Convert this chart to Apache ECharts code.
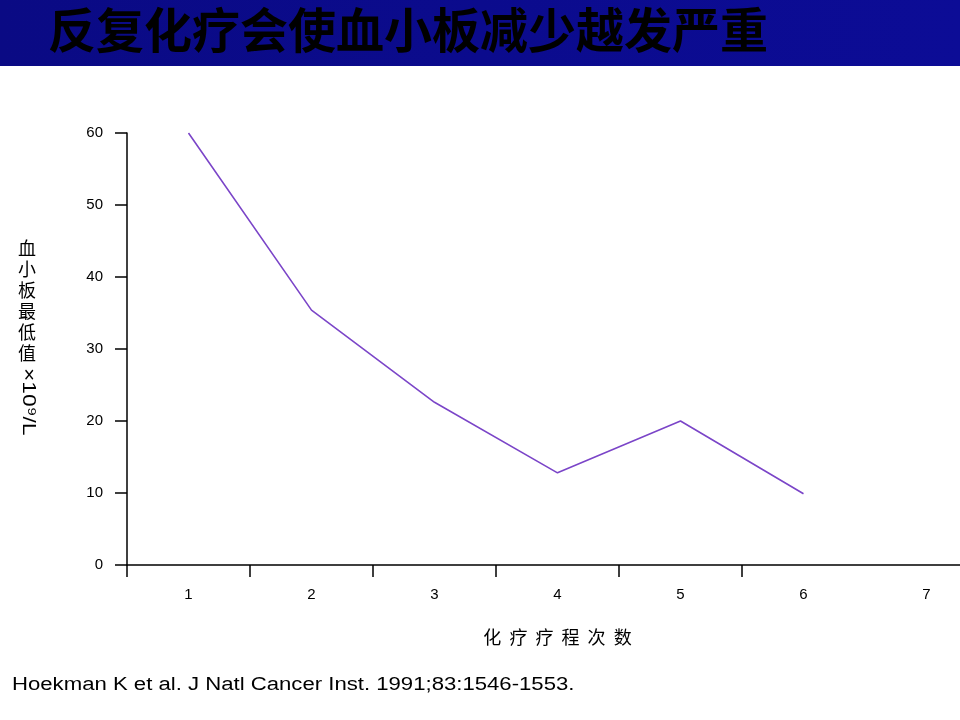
<!DOCTYPE html>
<html>
<head>
<meta charset="utf-8">
<script src="https://cdn.jsdelivr.net/npm/echarts@6/dist/echarts.min.js"></script>
<style>
  html, body { margin: 0; padding: 0; background: #fff; }
  #main { width: 960px; height: 720px; }
</style>
</head>
<body>
<div id="main"></div>
<script>
// 化疗疗程次数 (x 轴类目)
var cycles = ['1', '2', '3', '4', '5', '6', '7'];
// 血小板最低值 ×10^9/L, 第 7 疗程无数据
var plateletNadir = [60, 35.4, 22.6, 12.8, 20, 9.9, null];
// y 轴刻度
var yTicks = [0, 10, 20, 30, 40, 50, 60];

var titleText = '反复化疗会使血小板减少越发严重';
var sourceText = 'Hoekman K et al. J Natl Cancer Inst. 1991;83:1546-1553.';

var chart = echarts.init(document.getElementById('main'), null, { renderer: 'canvas' });

var option = {
  backgroundColor: '#ffffff',
  animation: false,
  grid: {
    left: 127,
    top: 133,
    width: 861,   // 7 个类目，最后一个伸出画面
    height: 432,
    outerBoundsMode: 'none'
  },
  xAxis: {
    type: 'category',
    data: cycles,
    boundaryGap: true,
    name: '化  疗  疗  程  次  数',
    nameLocation: 'middle',
    nameGap: 63,
    nameTextStyle: {
      color: '#000',
      fontSize: 18,
      fontFamily: 'Noto Sans CJK SC'
    },
    axisLine: { lineStyle: { color: '#000', width: 1.5 } },
    axisTick: {
      show: true,
      length: 12,
      lineStyle: { color: '#000', width: 1.5 },
      interval: function (index) { return index <= 5; }
    },
    axisLabel: {
      color: '#000',
      fontSize: 15,
      fontFamily: 'Liberation Sans',
      margin: 22
    }
  },
  yAxis: {
    type: 'value',
    min: yTicks[0],
    max: yTicks[yTicks.length - 1],
    interval: 10,
    splitLine: { show: false },
    axisLine: { show: true, lineStyle: { color: '#000', width: 1.5 } },
    axisTick: { show: true, length: 12, lineStyle: { color: '#000', width: 1.5 } },
    axisLabel: {
      color: '#000',
      fontSize: 15,
      fontFamily: 'Liberation Sans',
      margin: 24
    }
  },
  series: [
    {
      type: 'line',
      data: plateletNadir,
      showSymbol: false,
      symbol: 'none',
      lineStyle: { color: '#7b45c8', width: 1.6 },
      connectNulls: false
    }
  ],
  graphic: [
    // 顶部蓝色标题栏
    {
      type: 'rect',
      left: 0,
      top: 0,
      shape: { width: 960, height: 66 },
      style: {
        fill: new echarts.graphic.LinearGradient(0, 0, 1, 0, [
          { offset: 0, color: '#0a0a84' },
          { offset: 1, color: '#0c0c96' }
        ])
      },
      z: 0
    },
    {
      type: 'text',
      left: 48,
      top: 6,
      style: {
        text: titleText,
        fill: '#000',
        font: 'bold 48px "Noto Sans CJK SC"',
        shadowColor: 'rgba(0,0,0,0.9)',
        shadowBlur: 4,
        shadowOffsetX: 2,
        shadowOffsetY: 2
      },
      z: 10
    },
    // y 轴名称: 竖排中文 + 旋转的单位
    {
      type: 'text',
      left: 18,
      top: 238,
      style: {
        text: '血\n小\n板\n最\n低\n值',
        fill: '#000',
        font: '18px "Noto Sans CJK SC"',
        lineHeight: 21
      }
    },
    {
      type: 'text',
      x: 38,
      y: 368,
      rotation: -Math.PI / 2,
      scaleX: 1.2,
      style: {
        text: '×10⁹/L',
        fill: '#000',
        font: '19px "Liberation Sans"',
        textAlign: 'left',
        textVerticalAlign: 'top'
      }
    },
    // 文献来源
    {
      type: 'text',
      x: 12,
      y: 676,
      scaleX: 1.23,
      style: {
        text: sourceText,
        fill: '#000',
        font: '18px "Liberation Sans"'
      }
    }
  ]
};

chart.setOption(option);
</script>
</body>
</html>
